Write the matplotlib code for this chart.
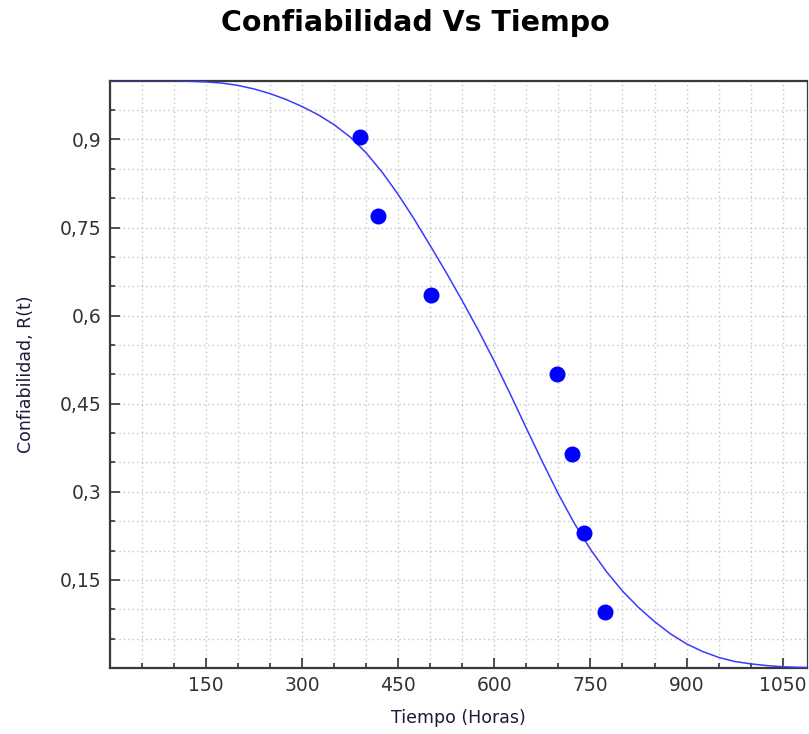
import matplotlib
matplotlib.use('Agg')
import matplotlib.pyplot as plt
from matplotlib.ticker import MultipleLocator, FuncFormatter

# puntos observados (tiempo de falla, rango de mediana)
t_obs = [390, 419, 501, 698, 721, 740, 773]
r_obs = [0.905, 0.770, 0.635, 0.500, 0.365, 0.230, 0.095]

t_fit = [0, 25, 50, 75, 100, 125, 150, 175, 200, 225, 250, 275, 300, 325, 350,
         375, 400, 425, 450, 475, 500, 525, 550, 575, 600, 625, 650, 675, 700,
         725, 750, 775, 800, 825, 850, 875, 900, 925, 950, 975, 1000, 1025,
         1050, 1075, 1100]
r_fit = [1.000, 1.000, 1.000, 1.000, 1.000, 0.999, 0.998, 0.996, 0.992, 0.986,
         0.978, 0.968, 0.956, 0.942, 0.925, 0.904, 0.877, 0.844, 0.806, 0.764,
         0.719, 0.673, 0.625, 0.575, 0.522, 0.466, 0.408, 0.351, 0.296, 0.246,
         0.202, 0.164, 0.131, 0.103, 0.079, 0.058, 0.041, 0.028, 0.018, 0.011,
         0.007, 0.004, 0.002, 0.001, 0.0005]

x_major = [150, 300, 450, 600, 750, 900, 1050]
y_major = [0.15, 0.3, 0.45, 0.6, 0.75, 0.9]

plt.rcParams['font.family'] = ['DejaVu Sans']

fig = plt.figure(figsize=(8.09, 7.34), dpi=100)
ax = fig.add_axes([0.136, 0.090, 0.8615, 0.800])

ax.plot(t_fit, r_fit, color='#3a3aff', lw=1.1, zorder=3)
ax.plot(t_obs, r_obs, 'o', color='#0000ff', markersize=10.5, zorder=4)

ax.set_xlim(0, 1088)
ax.set_ylim(0, 1.0)
ax.set_xticks(x_major)
ax.set_yticks(y_major)
ax.xaxis.set_minor_locator(MultipleLocator(50))
ax.yaxis.set_minor_locator(MultipleLocator(0.05))
ax.yaxis.set_major_formatter(FuncFormatter(lambda v, p: ('%g' % v).replace('.', ',')))

ax.grid(True, which='both', color='#c4c4c4', linestyle=(0, (1, 2.2)), lw=1.0)
ax.tick_params(which='major', direction='in', length=7.5, width=1.2, colors='#333333',
               labelsize=13.5, labelcolor='#333333', pad=6)
ax.tick_params(which='minor', direction='in', length=3.3, width=1.2, colors='#333333')
for side in ['left', 'bottom', 'top']:
    ax.spines[side].set_linewidth(1.6)
    ax.spines[side].set_color('#3a3a3a')
ax.spines['right'].set_linewidth(0.9)
ax.spines['right'].set_color('#3a3a3a')

ax.set_xlabel('Tiempo (Horas)', fontsize=12.5, color='#1a1a3a', labelpad=10)
ax.set_ylabel('Confiabilidad, R(t)', fontsize=12.5, color='#1a1a3a', labelpad=18)
fig.text(0.513, 0.968, 'Confiabilidad Vs Tiempo', fontsize=20.5, fontweight='bold',
         ha='center', va='center')

fig.savefig('out.png', dpi=100)
